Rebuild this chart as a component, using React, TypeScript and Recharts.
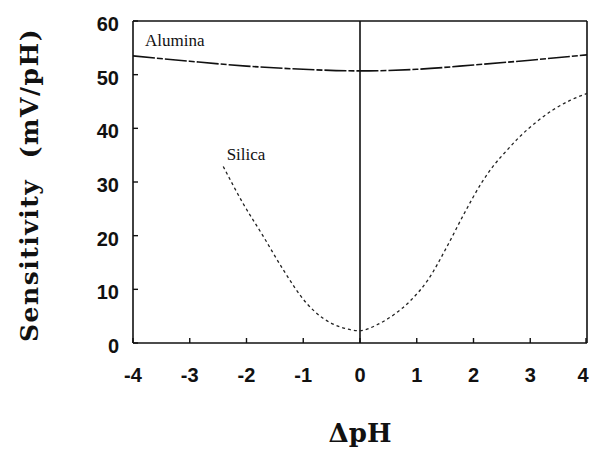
import React from 'react';
import { LineChart, Line, XAxis, YAxis, ReferenceLine, Label } from 'recharts';

const xTicks = [-4, -3, -2, -1, 0, 1, 2, 3, 4];
const yTicks = [0, 10, 20, 30, 40, 50, 60];

const aluminaX = [-4, -3, -2, -1, 0, 1, 2, 3, 4];
const aluminaY = [53.5, 52.5, 51.6, 51.0, 50.7, 51.0, 51.8, 52.7, 53.7];

const silicaX = [-2.41, -2.06, -1.7, -1.35, -0.94, -0.65, -0.35, 0, 0.3, 0.6, 0.9, 1.2, 1.53, 1.82, 2.14, 2.35, 2.58, 2.82, 3.11, 3.41, 3.7, 4.0];
const silicaY = [32.9, 26.0, 19.8, 13.6, 7.4, 4.6, 3.0, 2.3, 3.4, 5.3, 8.0, 11.8, 17.9, 23.8, 29.8, 33.0, 35.8, 38.5, 41.2, 43.5, 45.2, 46.5];

const alumina = aluminaX.map((x, i) => ({ x, y: aluminaY[i] }));
const silica = silicaX.map((x, i) => ({ x, y: silicaY[i] }));

const SANS = 'Liberation Sans, Arial, sans-serif';
const SERIF = 'DejaVu Serif, serif';

const YTick = (props: any) => {
  const { x, y, payload } = props;
  return (
    <g>
      <line x1={x + 15} x2={x + 20} y1={y} y2={y} stroke="#111" strokeWidth={1.4} />
      <text x={x + 1} y={y + 10} textAnchor="end" style={{ fontFamily: SANS, fontWeight: 700, fontSize: 20, fill: '#111' }}>
        {payload.value}
      </text>
    </g>
  );
};

const XTick = (props: any) => {
  const { x, y, payload } = props;
  const shift = payload.value === 4 ? -3 : 0;
  return (
    <g>
      <line x1={x} x2={x} y1={y - 25} y2={y - 30} stroke="#111" strokeWidth={1.4} />
      <text x={x + shift} y={y + 14} textAnchor="middle" style={{ fontFamily: SANS, fontWeight: 700, fontSize: 20, fill: '#111' }}>
        {payload.value}
      </text>
    </g>
  );
};

export default function App() {
  return (
    <div style={{ position: 'absolute', left: 0, top: 0, width: 590, height: 457, background: '#fff' }}>
      <LineChart width={590} height={457} margin={{ top: 21, right: 3, bottom: 84, left: 93 }}>
        <XAxis
          xAxisId="b"
          dataKey="x"
          type="number"
          domain={[-4, 4]}
          ticks={xTicks}
          allowDuplicatedCategory={false}
          height={30}
          stroke="#111"
          strokeWidth={1.6}
          tickSize={0}
          tickLine={false}
          tickMargin={25}
          tick={<XTick />}
        >
          <Label
            content={() => (
              <text x={360} y={442} textAnchor="middle" style={{ fontFamily: SERIF, fontWeight: 700, fontSize: 26, fill: '#111' }}>
                ΔpH
              </text>
            )}
          />
        </XAxis>
        <YAxis
          yAxisId="l"
          type="number"
          domain={[0, 60]}
          ticks={yTicks}
          width={40}
          stroke="#111"
          strokeWidth={1.6}
          tickSize={0}
          tickLine={false}
          tickMargin={15}
          tick={<YTick />}
        >
          <Label
            content={() => (
              <text
                x={38}
                y={185}
                transform="rotate(-90 38 185)"
                textAnchor="middle"
                style={{ fontFamily: SERIF, fontWeight: 700, fontSize: 25, fill: '#111', whiteSpace: 'pre', letterSpacing: 1.5 }}
              >
                {'Sensitivity  (mV/pH)'}
              </text>
            )}
          />
        </YAxis>
        <ReferenceLine xAxisId="b" yAxisId="l" y={60} stroke="#111" strokeWidth={1.6} />
        <ReferenceLine xAxisId="b" yAxisId="l" x={4} stroke="#111" strokeWidth={1.6} />
        <ReferenceLine xAxisId="b" yAxisId="l" x={0} stroke="#111" strokeWidth={1.6} />
        <Line
          xAxisId="b"
          yAxisId="l"
          data={alumina}
          dataKey="y"
          type="monotone"
          stroke="#111"
          strokeWidth={1.6}
          strokeDasharray="22 2 6 2"
          dot={false}
          isAnimationActive={false}
        />
        <Line
          xAxisId="b"
          yAxisId="l"
          data={silica}
          dataKey="y"
          type="monotone"
          stroke="#222"
          strokeWidth={1.3}
          strokeDasharray="3 3"
          dot={false}
          isAnimationActive={false}
        />
        <ReferenceLine
          xAxisId="b"
          yAxisId="l"
          y={60}
          stroke="none"
          label={{ value: 'Alumina', position: 'insideTopLeft', offset: 0, dx: 12, dy: 13, fill: '#111', fontFamily: 'Liberation Serif, serif', fontSize: 17 }}
        />
        <ReferenceLine
          xAxisId="b"
          yAxisId="l"
          segment={[{ x: -2.35, y: 35.3 }, { x: -2.35, y: 35.3 }]}
          stroke="none"
          label={{ value: 'Silica', position: 'right', offset: 0, fill: '#111', fontFamily: 'Liberation Serif, serif', fontSize: 17 }}
        />
      </LineChart>
    </div>
  );
}
